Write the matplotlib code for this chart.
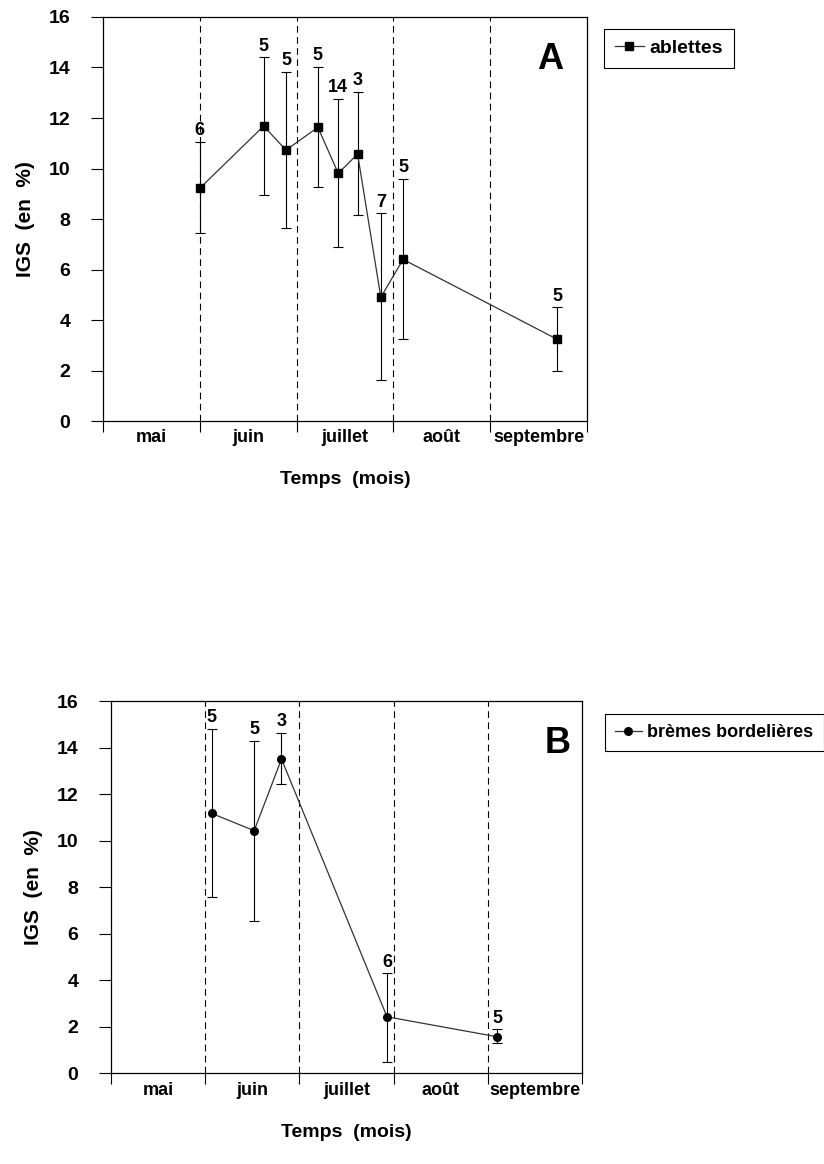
import matplotlib
matplotlib.use("Agg")
import matplotlib.pyplot as plt
import numpy as np

plt.rcParams['font.family'] = ['Liberation Sans', 'DejaVu Sans']
plt.rcParams['font.weight'] = 'bold'

months = ["mai", "juin", "juillet", "août", "septembre"]

# ablettes
x_a = [1.00, 1.66, 1.89, 2.22, 2.43, 2.63, 2.87, 3.10, 4.69]
y_a = [9.22, 11.68, 10.73, 11.63, 9.81, 10.57, 4.90, 6.40, 3.24]
hi_a = [11.06, 14.40, 13.83, 14.03, 12.75, 13.02, 8.22, 9.58, 4.50]
lo_a = [7.43, 8.95, 7.66, 9.28, 6.90, 8.16, 1.62, 3.25, 1.98]
n_a = [6, 5, 5, 5, 14, 3, 7, 5, 5]

# brèmes bordelières
x_b = [1.07, 1.52, 1.81, 2.93, 4.10]
y_b = [11.17, 10.43, 13.51, 2.43, 1.57]
hi_b = [14.80, 14.28, 14.64, 4.30, 1.89]
lo_b = [7.56, 6.55, 12.43, 0.50, 1.29]
n_b = [5, 5, 3, 6, 5]


def draw_panel(ax, x, y, lo, hi, n, marker, label, letter, letter_pos,
               leg_anchor, leg_size):
    y = np.asarray(y)
    yerr = [y - np.asarray(lo), np.asarray(hi) - y]

    ax.errorbar(x, y, yerr=yerr, fmt='none', ecolor='black', elinewidth=0.8,
                capsize=3.5, capthick=0.8, zorder=3)
    ax.plot(x, y, color='#333333', lw=0.9, marker=marker, ms=5.5,
            mfc='black', mec='black', label=label, zorder=4)

    # sample sizes above each bar
    for xi, top, k in zip(x, hi, n):
        ax.annotate(str(k), xy=(xi, top), xytext=(0, 2), textcoords='offset points',
                    ha='center', va='bottom', fontsize=13, fontweight='bold')

    # month boundaries
    for m in range(1, 5):
        ax.axvline(m, color='black', lw=0.8, ls=(0, (6, 4)), zorder=1)

    ax.set_xlim(0, 5)
    ax.set_ylim(0, 16)
    ax.set_xticks(range(6))
    ax.set_xticklabels([])
    ax.set_xticks(np.arange(5) + 0.5, minor=True)
    ax.set_xticklabels(months, minor=True, fontsize=13, fontweight='bold')
    ax.tick_params(axis='x', which='major', direction='out', length=8, width=0.8)
    ax.tick_params(axis='x', which='minor', length=0, pad=6)
    ax.set_yticks(range(0, 17, 2))
    ax.tick_params(axis='y', direction='out', length=8.5, width=0.8, pad=15,
                   labelsize=14)
    for lab in ax.get_yticklabels():
        lab.set_fontweight('bold')

    for s in ax.spines.values():
        s.set_linewidth(0.9)

    ax.set_xlabel("Temps  (mois)", fontsize=14, fontweight='bold', labelpad=18)
    ax.set_ylabel("IGS  (en  %)", fontsize=15, fontweight='bold', labelpad=10)

    ax.text(letter_pos[0], letter_pos[1], letter, transform=ax.transAxes,
            fontsize=26, fontweight='bold', ha='center', va='center')

    leg = ax.legend(loc='upper left', bbox_to_anchor=leg_anchor,
                    bbox_transform=ax.figure.transFigure, fancybox=False,
                    edgecolor='black', framealpha=1, handlelength=1.5,
                    handletextpad=0.3, borderpad=0.55,
                    prop={'size': leg_size, 'weight': 'bold'})
    leg.get_frame().set_linewidth(0.8)


fig = plt.figure(figsize=(8.24, 11.64), dpi=100)
fig.patch.set_facecolor('white')

ax_a = fig.add_axes([0.125, 0.6383, 0.5874, 0.3471])
draw_panel(ax_a, x_a, y_a, lo_a, hi_a, n_a, 's', "ablettes", "A",
           (0.924, 0.894), (0.721, 0.9837), 14)

ax_b = fig.add_axes([0.1347, 0.0779, 0.5716, 0.3198])
draw_panel(ax_b, x_b, y_b, lo_b, hi_b, n_b, 'o', "brèmes bordelières", "B",
           (0.949, 0.887), (0.7233, 0.3943), 13)

fig.savefig("out.png", dpi=100, facecolor='white')
